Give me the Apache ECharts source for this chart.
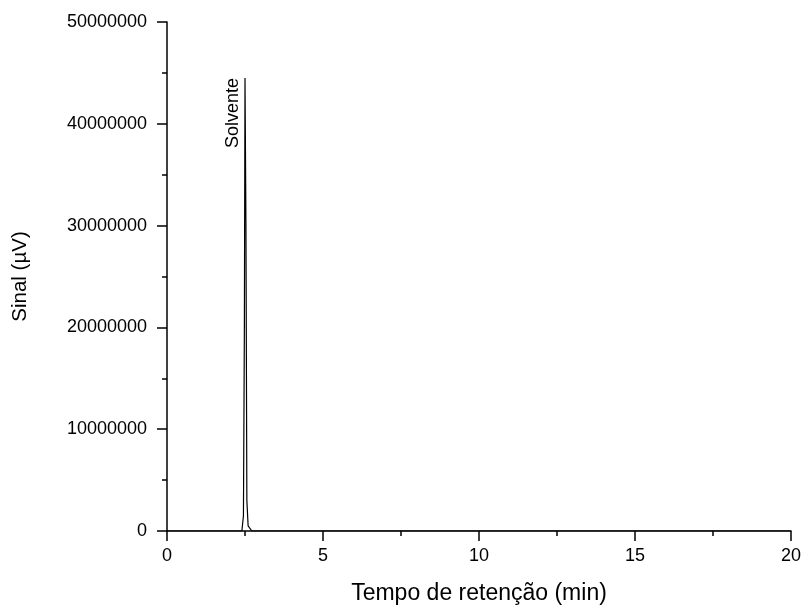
<!DOCTYPE html>
<html>
<head>
<meta charset="utf-8">
<script src="https://cdn.jsdelivr.net/npm/echarts@6/dist/echarts.min.js"></script>
<style>
  html, body { margin: 0; padding: 0; background: #fff; }
  #chart { width: 804px; height: 606px; }
</style>
</head>
<body>
<div id="chart"></div>
<script>
// retention time (min) and signal (µV)
var tempo = [0, 2.40, 2.45, 2.48, 2.50, 2.53, 2.56, 2.60, 2.66, 2.72, 20];
var sinal = [0, 0, 1500000, 20000000, 44500000, 30000000, 3000000, 500000, 350000, 0, 0];
var xTicks = [0, 5, 10, 15, 20];
var yTicks = [0, 10000000, 20000000, 30000000, 40000000, 50000000];
var peakLabel = "Solvente";
var peakAt = [2.5, 44500000];

var font = "'Liberation Sans', Arial, sans-serif";
var chart = echarts.init(document.getElementById("chart"));

chart.setOption({
  animation: false,
  grid: {
    left: 167,
    right: 13,
    top: 22,
    bottom: 75,
    containLabel: false,
    outerBoundsMode: "none",
  },
  xAxis: {
    type: "value",
    min: xTicks[0],
    max: xTicks[xTicks.length - 1],
    interval: 5,
    name: "Tempo de retenção (min)",
    nameLocation: "middle",
    nameGap: 51,
    nameTextStyle: { fontFamily: font, fontSize: 23, color: "#000" },
    axisLine: { show: true, onZero: false, lineStyle: { color: "#000", width: 1.5 } },
    axisTick: { show: true, inside: false, length: 10, lineStyle: { color: "#000", width: 1.5 } },
    minorTick: { show: true, splitNumber: 2, length: 5, lineStyle: { color: "#000", width: 1.5 } },
    axisLabel: { fontFamily: font, fontSize: 18, color: "#000", margin: 16 },
    splitLine: { show: false },
  },
  yAxis: {
    type: "value",
    min: yTicks[0],
    max: yTicks[yTicks.length - 1],
    interval: 10000000,
    name: "Sinal (µV)",
    nameLocation: "middle",
    nameGap: 136,
    nameRotate: 90,
    nameTextStyle: { fontFamily: font, fontSize: 20.5, color: "#000" },
    axisLine: { show: true, onZero: false, lineStyle: { color: "#000", width: 1.5 } },
    axisTick: { show: true, inside: false, length: 10, lineStyle: { color: "#000", width: 1.5 } },
    minorTick: { show: true, splitNumber: 2, length: 5, lineStyle: { color: "#000", width: 1.5 } },
    axisLabel: {
      fontFamily: font, fontSize: 18, color: "#000", margin: 20,
      formatter: function (v) { return String(v); },
    },
    splitLine: { show: false },
  },
  series: [
    {
      type: "line",
      data: tempo.map(function (t, i) { return [t, sinal[i]]; }),
      showSymbol: false,
      symbol: "none",
      lineStyle: { color: "#000", width: 1.2 },
      markPoint: {
        symbol: "circle",
        symbolSize: 0,
        data: [{ coord: peakAt }],
        label: {
          show: true,
          formatter: peakLabel,
          rotate: 90,
          align: "right",
          verticalAlign: "middle",
          offset: [0, -12],
          fontFamily: font,
          fontSize: 18,
          color: "#000",
        },
      },
    },
  ],
});
</script>
</body>
</html>
